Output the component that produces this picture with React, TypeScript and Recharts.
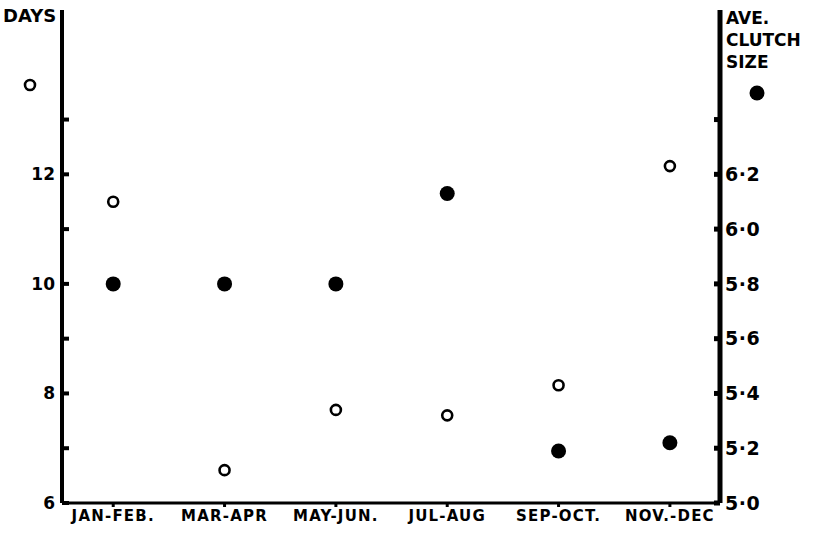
import { ComposedChart, Scatter, XAxis, YAxis } from "recharts"

const periods = ["JAN-FEB.", "MAR-APR", "MAY-JUN.", "JUL-AUG", "SEP-OCT.", "NOV.-DEC"]
const days = [11.5, 6.6, 7.7, 7.6, 8.15, 12.15]
const clutchSize = [5.8, 5.8, 5.8, 6.13, 5.19, 5.22]

const dayTicks = [6, 7, 8, 9, 10, 11, 12, 13]
const dayLabels = [6, 8, 10, 12]
const clutchTicks = [5.0, 5.2, 5.4, 5.6, 5.8, 6.0, 6.2, 6.4]
const clutchLabels = ["5·0", "5·2", "5·4", "5·6", "5·8", "6·0", "6·2", ""]

const rows = periods.map((p, i) => ({ idx: i + 1, period: p, days: days[i], clutch: clutchSize[i] }))

const font = "'DejaVu Sans', sans-serif"
const tickStyle = { fill: "#000", fontSize: 17, fontWeight: 700, fontFamily: font }

const OpenDot = (p: any) => <circle cx={p.cx} cy={p.cy} r={5} fill="#fff" stroke="#000" strokeWidth={2.6} />
const FilledDot = (p: any) => <circle cx={p.cx} cy={p.cy} r={7.5} fill="#000" />

export default function App() {
  return (
    <div style={{ position: "absolute", left: 0, top: 0, width: 826, height: 537, background: "#fff", fontFamily: font }}>
      <ComposedChart width={826} height={537} data={rows} margin={{ top: 10, right: 0, bottom: 0, left: 0 }}>
        <XAxis
          type="number"
          dataKey="idx"
          domain={[0.54, 6.45]}
          ticks={[1, 2, 3, 4, 5, 6]}
          tickFormatter={(v) => periods[v - 1]}
          height={34}
          stroke="#000"
          strokeWidth={3}
          tickSize={4}
          tickMargin={3}
          tick={{ ...tickStyle, fontSize: 15, fontWeight: 700, letterSpacing: 1.2 }}
          interval={0}
        />
        <YAxis
          yAxisId="days"
          type="number"
          domain={[6, 15]}
          ticks={dayTicks}
          tickFormatter={(v) => (dayLabels.includes(v) ? String(v) : "")}
          width={62}
          stroke="#000"
          strokeWidth={4}
          tickSize={-7}
          tickMargin={14}
          tick={tickStyle}
          interval={0}
        />
        <YAxis
          yAxisId="clutch"
          orientation="right"
          type="number"
          domain={[5.0, 6.8]}
          ticks={clutchTicks}
          tickFormatter={(v) => clutchLabels[clutchTicks.findIndex((t) => Math.abs(t - v) < 0.01)]}
          width={106}
          stroke="#000"
          strokeWidth={5}
          tickSize={-6}
          tickMargin={11}
          tick={{ ...tickStyle, fontSize: 19, fontWeight: 700, letterSpacing: 0.5 }}
          interval={0}
        />
        <Scatter yAxisId="days" dataKey="days" shape={OpenDot} isAnimationActive={false} />
        <Scatter yAxisId="clutch" dataKey="clutch" shape={FilledDot} isAnimationActive={false} />
      </ComposedChart>

      <div style={{ position: "absolute", left: 3, top: 5, fontSize: 18, fontWeight: 700, letterSpacing: 0 }}>DAYS</div>
      <div style={{ position: "absolute", left: 726, top: 7, fontSize: 17, fontWeight: 700, lineHeight: "22px" }}>
        AVE.<br />CLUTCH<br />SIZE
      </div>
      <svg style={{ position: "absolute", left: 0, top: 0 }} width={826} height={537}>
        <circle cx={30} cy={85} r={5} fill="#fff" stroke="#000" strokeWidth={2.6} />
        <circle cx={757} cy={93} r={7.5} fill="#000" />
      </svg>
    </div>
  )
}
